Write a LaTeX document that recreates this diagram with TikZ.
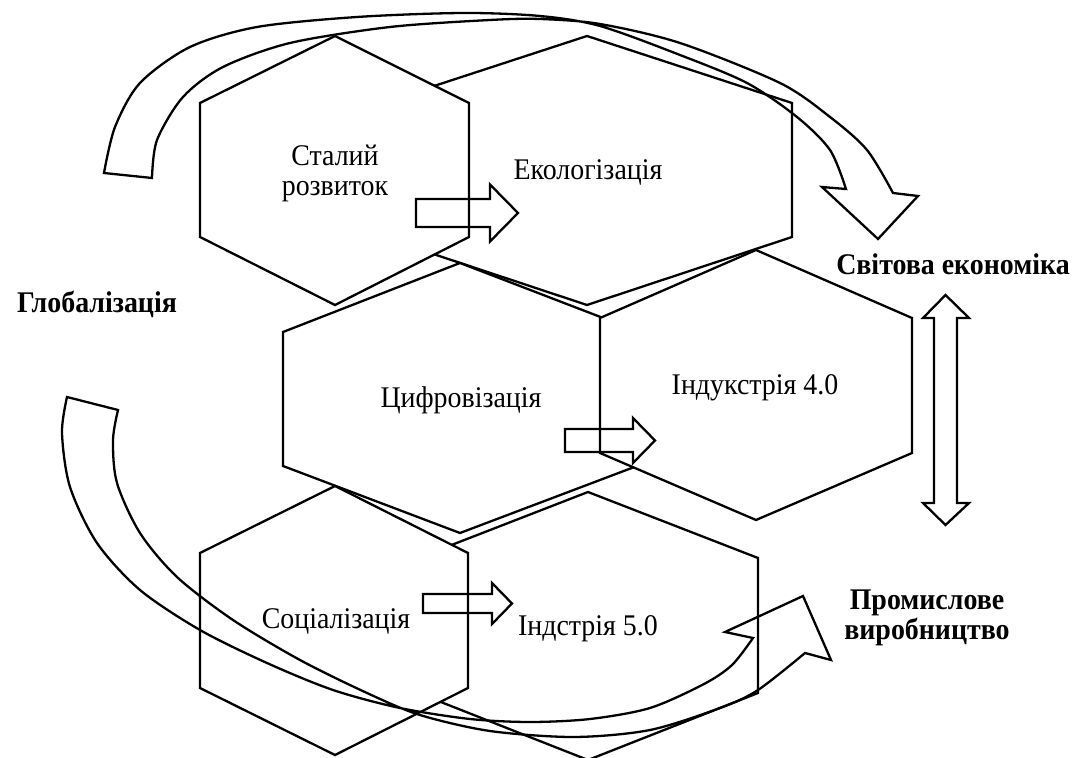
\documentclass[tikz,border=0pt]{standalone}
\usepackage{fontspec}
\setmainfont{Liberation Serif}[FakeStretch=0.93]
\begin{document}
\begin{tikzpicture}[x=0.5pt, y=-0.5pt, line width=1.15pt, every node/.style={font=\fontsize{15}{15}\selectfont}]
  \tikzstyle{hexa}=[draw,fill=white,line join=miter]
  \tikzstyle{blk}=[draw,line join=miter]
  \tikzstyle{lbl}=[align=center,inner sep=0pt]
  \tikzstyle{big}=[align=center,inner sep=0pt,font=\fontsize{15}{15}\selectfont\bfseries]
  \useasboundingbox (0,0) rectangle (1081,758);
  \draw[hexa] (587,36) -- (792,103) -- (792,237) -- (587,305) -- (382,237) -- (382,103) -- cycle;
  \draw[hexa] (335,36) -- (469,103) -- (469,237) -- (335,305) -- (200,237) -- (200,103) -- cycle;
  \draw[hexa] (460,263) -- (637,331) -- (637,466) -- (460,533) -- (283,466) -- (283,332) -- cycle;
  \draw[hexa] (756,250) -- (912,318) -- (912,453) -- (756,520) -- (600,453) -- (600,318) -- cycle;
  \draw[hexa] (588,492) -- (758,558) -- (758,693) -- (588,760) -- (418,693) -- (418,558) -- cycle;
  \draw[hexa] (335,486) -- (468,553) -- (468,688) -- (335,755) -- (200,688) -- (200,553) -- cycle;
  \draw[blk] (416,199) -- (490,199) -- (490,184.5) -- (518,213) -- (490,241.5) -- (490,227) -- (416,227) -- cycle;
  \draw[blk] (565,429) -- (633,429) -- (633,418) -- (655,440.5) -- (633,463) -- (633,452) -- (565,452) -- cycle;
  \draw[blk] (423,594) -- (492,594) -- (492,583) -- (512,603.5) -- (492,624) -- (492,613) -- (423,613) -- cycle;
  \draw[blk] (945.5,295) -- (969,318) -- (957,318) -- (957,503) -- (969,503) -- (945.5,525) -- (923,503) -- (934,503) -- (934,318) -- (923,318) -- cycle;
  \draw[blk] (104,173) -- (152,178)
    -- plot[smooth] coordinates {(152,178) (157,140) (183,97) (223,67) (290,43) (390,27) (490,20) (540,19) (600,24) (680,43) (780,83) (830,117) (867,150) (893,193)}
    -- (918,196) -- (878,239) -- (822,187) -- (846,189)
    -- plot[smooth] coordinates {(846,189) (830,150) (797,117) (747,83) (680,55) (600,26) (540,16) (463,13) (357,17) (257,27) (190,47) (140,83) (115,127) (104,173)}
    -- cycle;
  \draw[blk] (67,397) -- (118,410)
    -- plot[smooth] coordinates {(118,410) (113,440) (117,483) (140,533) (177,577) (233,620) (300,660) (367,693) (420,715) (490,731) (574,737) (650,730) (720,708) (758,690) (805,653)}
    -- (831,660) -- (803,596) -- (725,632) -- (753,638)
    -- plot[smooth] coordinates {(753,638) (732,665) (704,684) (650,708) (590,719) (530,722) (470,719) (400,708) (333,690) (267,663) (200,630) (140,590) (97,543) (70,487) (62,433) (67,397)}
    -- cycle;
  \node[lbl] (stal) at (335,173) {Сталий\\розвиток};
  \node[lbl,anchor=base] (eko) at (588,180) {Екологізація};
  \node[lbl,anchor=base] (cyfr) at (461,408) {Цифровізація};
  \node[lbl,anchor=base] (ind4) at (755,395) {Індукстрія 4.0};
  \node[lbl,anchor=base] (soc) at (336,628) {Соціалізація};
  \node[lbl,anchor=base] (ind5) at (588,635) {Індстрія 5.0};
  \node[big,anchor=base] (glob) at (97,313) {Глобалізація};
  \node[big,anchor=base] (svit) at (953,275) {Світова економіка};
  \node[big] (prom) at (927,618) {Промислове\\виробництво};
\end{tikzpicture}
\end{document}
